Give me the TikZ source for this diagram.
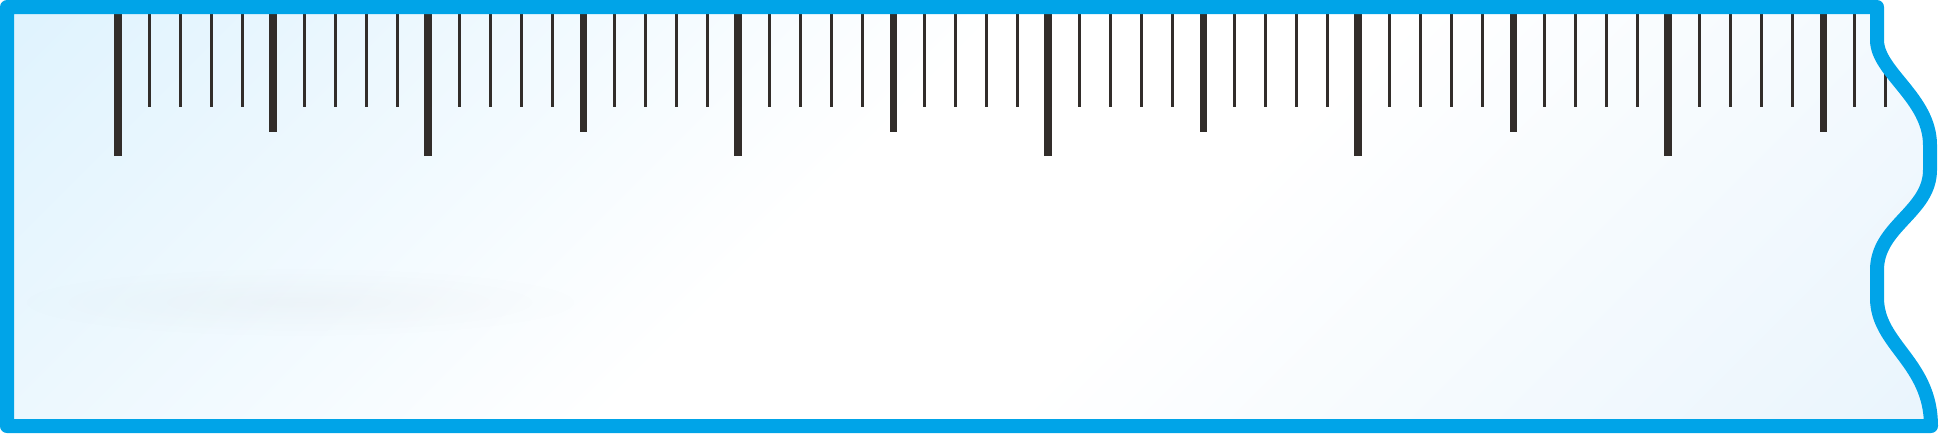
\documentclass[tikz,border=0pt]{standalone}
\usetikzlibrary{fadings}
\definecolor{rulerblue}{RGB}{0,164,232}
\definecolor{tickcol}{RGB}{50,45,42}
\definecolor{fillA}{RGB}{224,243,254}
\definecolor{fillB}{RGB}{234,245,253}
\pgfdeclareverticalshading{rulershade}{100bp}{color(0bp)=(fillB); color(16bp)=(fillB); color(43bp)=(white); color(55bp)=(white); color(84bp)=(fillA); color(100bp)=(fillA)}
\tikzfading[name=softfade, inner color=transparent!0, outer color=transparent!100]
\begin{document}
\begin{tikzpicture}[x=0.01cm,y=-0.01cm,
  border/.style={draw=rulerblue,line width=0.14cm,line join=round},
  majortick/.style={draw=tickcol,line width=0.08cm},
  halftick/.style={draw=tickcol,line width=0.07cm},
  minortick/.style={draw=tickcol,line width=0.03cm}]
\useasboundingbox (0,0) rectangle (1941,435);
\begin{scope}
  \clip (7,7) -- (1877,7) -- (1877,40) .. controls (1877,72) and (1930,98) .. (1930,145) -- (1930,170) .. controls (1930,212) and (1877,226) .. (1877,270) -- (1877,298) .. controls (1877,345) and (1931,362) .. (1931,426) -- (7,426) -- cycle;
  \shade[shading=rulershade, shading angle=45] (0,0) rectangle (1941,435);
  \fill[gray!60, opacity=0.08, path fading=softfade] (300,302) ellipse (280 and 34);
  \foreach \x in {118,149,...,1886} \draw[minortick] (\x,0) -- (\x,107);
  \foreach \x in {273,583,...,1823} \draw[halftick] (\x,0) -- (\x,132);
  \foreach \x in {118,428,...,1668} \draw[majortick] (\x,0) -- (\x,156);
\end{scope}
\draw[border] (7,7) -- (1877,7) -- (1877,40) .. controls (1877,72) and (1930,98) .. (1930,145) -- (1930,170) .. controls (1930,212) and (1877,226) .. (1877,270) -- (1877,298) .. controls (1877,345) and (1931,362) .. (1931,426) -- (7,426) -- cycle;
\end{tikzpicture}
\end{document}
